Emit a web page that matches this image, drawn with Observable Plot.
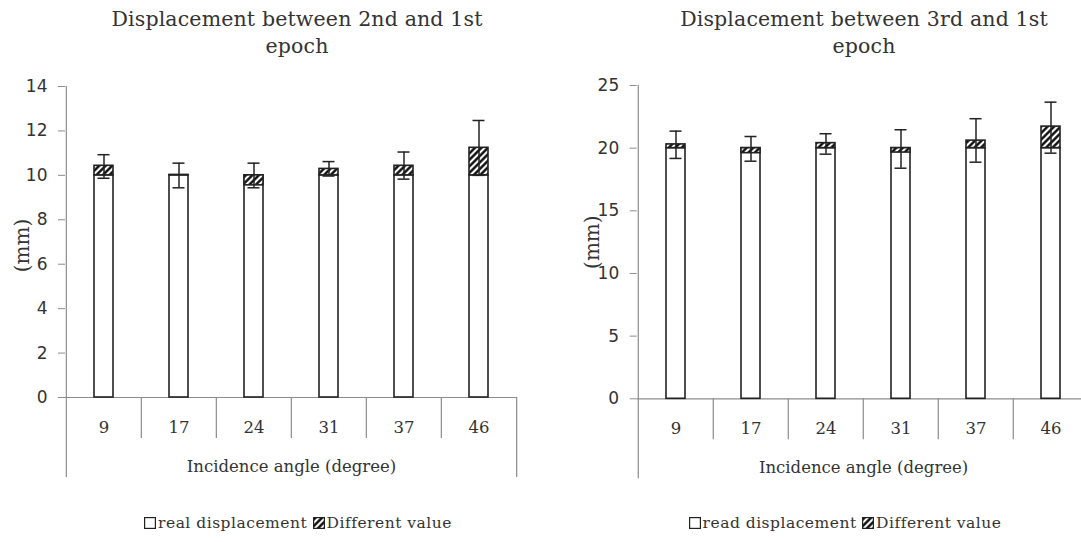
<!DOCTYPE html>
<html><head><meta charset="utf-8">
<script src="https://cdn.jsdelivr.net/npm/d3@7"></script>
<script src="https://cdn.jsdelivr.net/npm/@observablehq/plot@0.6"></script>
<style>
html,body{margin:0;padding:0;background:#fff;overflow:hidden;}
#root{position:relative;width:1081px;height:542px;overflow:hidden;background:#fff;}
.title{position:absolute;top:6px;width:560px;text-align:center;font-family:"DejaVu Serif",serif;font-size:20.5px;letter-spacing:0.15px;line-height:27px;color:#333;}
.chart{position:absolute;top:60px;}
.chart svg{max-width:none !important;height:auto;display:block;}
.legend{position:absolute;top:512px;width:560px;text-align:center;font-family:"DejaVu Serif",serif;font-size:15.5px;letter-spacing:0.5px;line-height:22px;color:#333;white-space:nowrap;}
.legend svg{vertical-align:-1px;margin-right:2px;}
</style></head><body><div id="root"></div>
<script>
// ---- data ----
const categories = ["9", "17", "24", "31", "37", "46"];
const xTitle = "Incidence angle (degree)";
const yTitle = "(mm)";

const titleLeft = ["Displacement between 2nd and 1st", "epoch"];
const realLeft = [10, 10, 10, 10, 10, 10];
const measuredLeft = [10.43, 10.02, 9.55, 10.29, 10.43, 11.24];
const errLowLeft = [9.87, 9.44, 9.44, 9.97, 9.83, 10.0];
const errHighLeft = [10.93, 10.55, 10.55, 10.62, 11.05, 12.47];
const yTicksLeft = [0, 2, 4, 6, 8, 10, 12, 14];
const legendLeft = ["real displacement", "Different value"];

const titleRight = ["Displacement between 3rd and 1st", "epoch"];
const realRight = [20, 20, 20, 20, 20, 20];
const measuredRight = [20.3, 19.6, 20.4, 19.65, 20.6, 21.72];
const errLowRight = [19.18, 18.96, 19.52, 18.4, 18.88, 19.6];
const errHighRight = [21.36, 20.93, 21.15, 21.47, 22.35, 23.67];
const yTicksRight = [0, 5, 10, 15, 20, 25];
const legendRight = ["read displacement", "Different value"];

const root = document.getElementById("root");

function makeChart(cfg) {
  const rows = categories.map((c, i) => ({
    c, real: cfg.real[i], measured: cfg.measured[i], lo: cfg.lo[i], hi: cfg.hi[i]
  }));
  const yMax = cfg.yTicks[cfg.yTicks.length - 1];
  const step = (cfg.width - cfg.marginLeft - cfg.marginRight) / categories.length;
  const axisCol = "#8c8c8c";
  const ink = "#222";
  const svg = Plot.plot({
    width: cfg.width,
    height: cfg.height,
    marginLeft: cfg.marginLeft,
    marginRight: cfg.marginRight,
    marginTop: cfg.marginTop,
    marginBottom: cfg.marginBottom,
    style: {fontFamily: "'DejaVu Serif', serif", fontSize: "15px", color: "#333", background: "transparent", overflow: "visible"},
    x: {type: "band", domain: categories, paddingInner: 0.75, paddingOuter: 0.375, axis: null},
    y: {domain: [0, yMax]},
    marks: [
      Plot.ruleY([0], {stroke: axisCol, strokeWidth: 1.2}),
      // category dividers
      Plot.ruleX(categories.slice(1), {x: d => d, y1: 0, y2: 0, dx: -step / 2, insetBottom: -41, stroke: axisCol, strokeWidth: 1.2}),
      Plot.ruleX([categories[0]], {x: d => d, y1: yMax, y2: 0, dx: -step / 2, insetBottom: -80, stroke: axisCol, strokeWidth: 1.2}),
      Plot.ruleX([categories[categories.length - 1]], {x: d => d, y1: 0, y2: 0, dx: step / 2, insetBottom: -80, stroke: axisCol, strokeWidth: 1.2}),
      Plot.axisY(cfg.yTicks, {tickSize: 7, tickPadding: 11, stroke: axisCol, fill: "#333", fontSize: 17, fontFamily: "'DejaVu Sans', sans-serif", letterSpacing: "2.2px", label: null, tickFormat: d => String(d)}),
      Plot.barY(rows, {x: "c", y1: 0, y2: "real", fill: "white", stroke: ink, strokeWidth: 1.6}),
      Plot.barY(rows, {x: "c", y1: "real", y2: "measured", fill: `url(#${cfg.pid})`, stroke: ink, strokeWidth: 1.6}),
      Plot.ruleX(rows, {x: "c", y1: "lo", y2: "hi", stroke: ink, strokeWidth: 1.5}),
      Plot.tickY(rows, {x: "c", y: "lo", stroke: ink, strokeWidth: 1.5, insetLeft: 3.5, insetRight: 3.5}),
      Plot.tickY(rows, {x: "c", y: "hi", stroke: ink, strokeWidth: 1.5, insetLeft: 3.5, insetRight: 3.5}),
      Plot.text(categories, {x: d => d, text: d => d, frameAnchor: "bottom", lineAnchor: "middle", dy: 30, fontSize: 16.5, letterSpacing: "1px", fill: "#333"}),
      Plot.text([xTitle], {text: d => d, frameAnchor: "bottom", lineAnchor: "middle", textAnchor: "middle", dy: 69, fontSize: 16.5, letterSpacing: "0.6px", fill: "#333"}),
      Plot.text([yTitle], {text: d => d, frameAnchor: "left", textAnchor: "middle", lineAnchor: "middle", dx: cfg.ylabelDx, dy: cfg.ylabelDy, rotate: -90, fontSize: 20, fill: "#333"})
    ]
  });
  d3.select(svg).insert("defs", ":first-child").html(
    `<pattern id="${cfg.pid}" patternUnits="userSpaceOnUse" width="4.6" height="4.6" patternTransform="rotate(45)">
       <rect width="4.6" height="4.6" fill="white"/>
       <line x1="2.3" y1="-1" x2="2.3" y2="6" stroke="black" stroke-width="2.3"/>
     </pattern>`);
  const box = document.createElement("div");
  box.className = "chart";
  box.style.left = cfg.left + "px";
  box.style.width = cfg.width + "px";
  box.appendChild(svg);
  root.appendChild(box);

  const t = document.createElement("div");
  t.className = "title";
  t.style.left = (cfg.titleX - 280) + "px";
  t.innerHTML = cfg.title.join("<br>");
  root.appendChild(t);

  const lg = document.createElement("div");
  lg.className = "legend";
  lg.style.left = (cfg.legendX - 280) + "px";
  lg.innerHTML =
    `<svg width="12" height="12"><rect x="0.6" y="0.6" width="10.8" height="10.8" fill="white" stroke="${ink}" stroke-width="1.2"/></svg>${cfg.legend[0]} ` +
    `<svg width="12" height="12"><rect x="0.6" y="0.6" width="10.8" height="10.8" fill="url(#${cfg.pid})" stroke="${ink}" stroke-width="1.2"/></svg>${cfg.legend[1]}`;
  root.appendChild(lg);
}

makeChart({
  real: realLeft, measured: measuredLeft, lo: errLowLeft, hi: errHighLeft, yTicks: yTicksLeft,
  width: 571, height: 430, marginLeft: 65, marginRight: 54, marginTop: 26, marginBottom: 93,
  left: 0, pid: "hatchL", ylabelDx: -43, ylabelDy: 3.5,
  title: titleLeft, titleX: 297, legend: legendLeft, legendX: 298
});
makeChart({
  real: realRight, measured: measuredRight, lo: errLowRight, hi: errHighRight, yTicks: yTicksRight,
  width: 520, height: 430, marginLeft: 65.7, marginRight: 1.5, marginTop: 25, marginBottom: 91.7,
  left: 571, pid: "hatchR", ylabelDx: -44.7, ylabelDy: 0,
  title: titleRight, titleX: 864, legend: legendRight, legendX: 845
});
</script>
</body></html>
